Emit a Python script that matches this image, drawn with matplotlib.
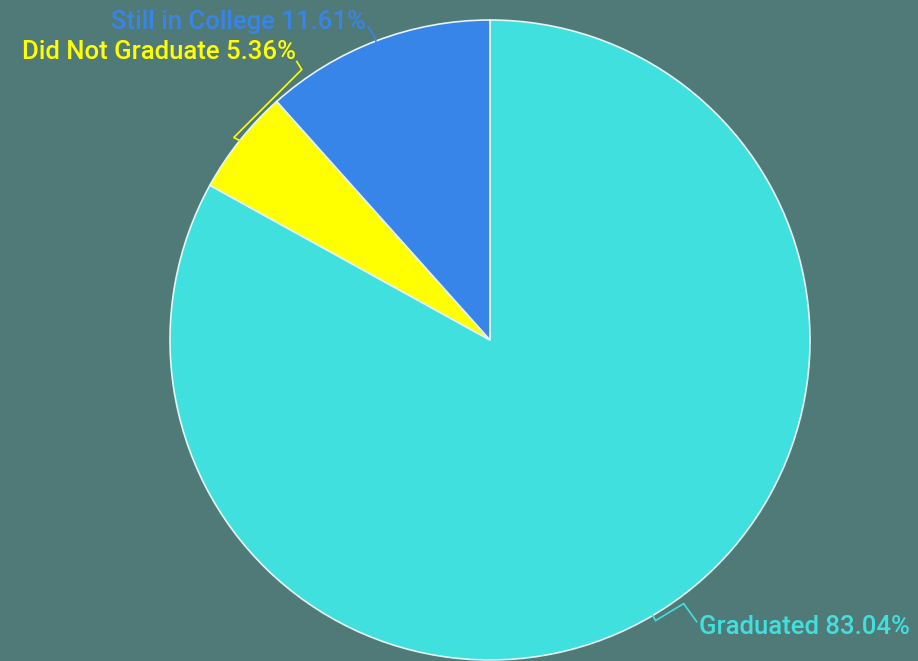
import matplotlib.pyplot as plt
import numpy as np

# data
labels = ['Graduated', 'Did Not Graduate', 'Still in College']
values = [83.04, 5.36, 11.61]
colors = ['#40e0de', '#ffff00', '#3785e8']
bg = '#507a77'

plt.rcParams['font.family'] = ['Roboto', 'DejaVu Sans']

fig = plt.figure(figsize=(9.18, 6.61), dpi=100, facecolor=bg)
ax = fig.add_axes([0, 0, 1, 1])
ax.set_facecolor(bg)

# pie centre at pixel (490, 340), radius 320 px -> 1 data unit = 320 px
R = 320.0

wedges, _ = ax.pie(values, colors=colors, startangle=90, counterclock=False,
                   radius=1.0, center=(0, 0), frame=True,
                   wedgeprops=dict(edgecolor='#e6f4f2', linewidth=1.2))
ax.set_xlim(-490 / R, (918 - 490) / R)
ax.set_ylim(-(661 - 340) / R, 340 / R)
ax.set_aspect('equal')
ax.axis('off')


def px(dx, dy):
    # pixel offsets -> data offsets (y down in pixels)
    return dx / R, -dy / R


# label layout: knee points, text offset (pixels from edge point), alignment
layout = {
    'Graduated': [(3, 5), (31, -12), (44, 6), (46, 11), 'left'],
    'Did Not Graduate': [(-6, -3), (62, -71), (57, -79), (56, -89), 'right'],
    'Still in College': [(-1, -4), (-6, -12), (-8, -14), (-10, -19), 'right'],
}

for w, lab, val, col in zip(wedges, labels, values, colors):
    mid = np.deg2rad((w.theta1 + w.theta2) / 2)
    x0, y0 = np.cos(mid), np.sin(mid)
    k1, k2, k3, t, ha = layout[lab]
    xs, ys = [x0], [y0]
    for k in (k1, k2, k3):
        ox, oy = px(*k)
        xs.append(x0 + ox)
        ys.append(y0 + oy)
    ax.plot(xs, ys, color=col, lw=1.2, solid_joinstyle='miter')
    tx, ty = px(*t)
    ax.text(x0 + tx, y0 + ty, f'{lab} {val:.2f}%', color=col, fontsize=18.5,
            ha=ha, va='center', fontweight='medium')

fig.savefig('out.png', dpi=100, facecolor=bg)
